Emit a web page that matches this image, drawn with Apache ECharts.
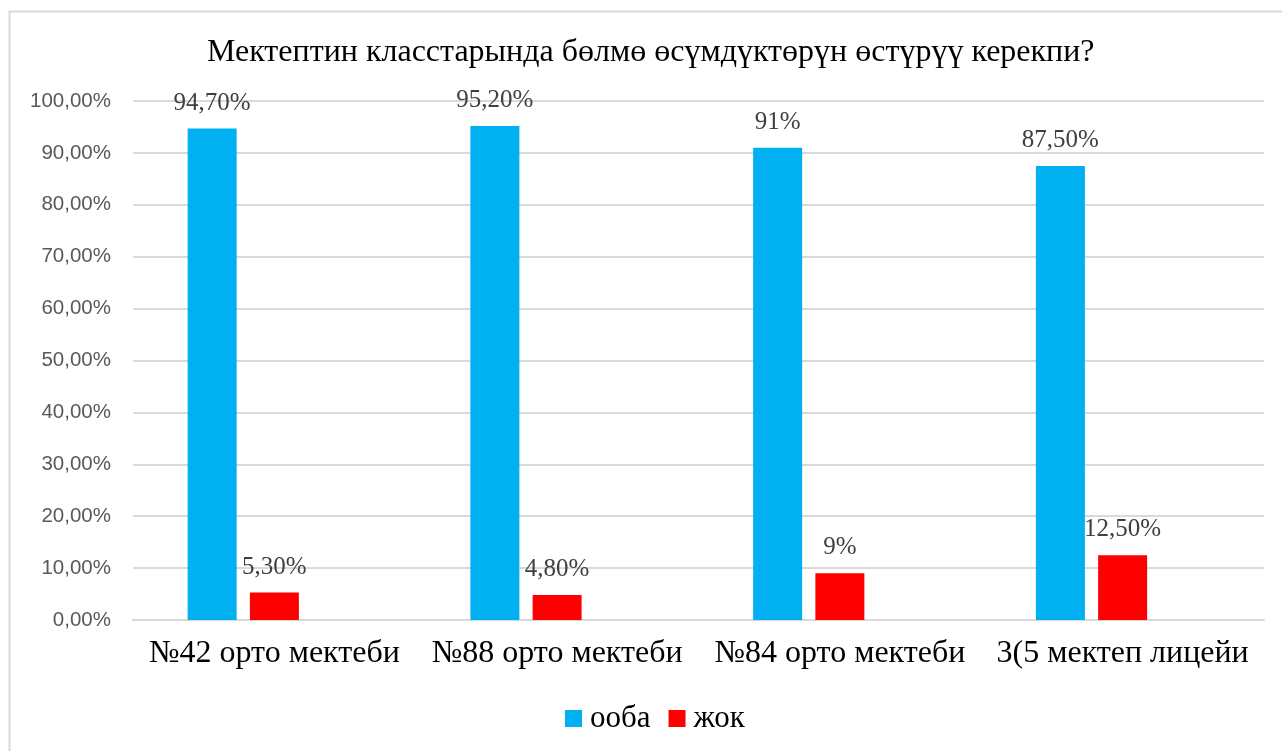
<!DOCTYPE html>
<html>
<head>
<meta charset="utf-8">
<script src="https://cdn.jsdelivr.net/npm/echarts@6/dist/echarts.min.js"></script>
<style>
html,body{margin:0;padding:0;background:#fff;}
#c{width:1282px;height:751px;}
</style>
</head>
<body>
<div id="c"></div>
<script>
var title = 'Мектептин класстарында бөлмө өсүмдүктөрүн өстүрүү керекпи?';
var categories = ['№42 орто мектеби', '№88 орто мектеби', '№84 орто мектеби', '3(5 мектеп лицейи'];
var yesName = 'ооба';
var noName = 'жок';
var yesValues = [94.7, 95.2, 91, 87.5];
var noValues = [5.3, 4.8, 9, 12.5];
var yesLabels = ['94,70%', '95,20%', '91%', '87,50%'];
var noLabels = ['5,30%', '4,80%', '9%', '12,50%'];
var yTicks = ['0,00%', '10,00%', '20,00%', '30,00%', '40,00%', '50,00%', '60,00%', '70,00%', '80,00%', '90,00%', '100,00%'];

var chart = echarts.init(document.getElementById('c'), null, {renderer: 'canvas'});
var serif = '"Liberation Serif", "Times New Roman", serif';
var sans = '"Liberation Sans", Arial, sans-serif';

function labelCfg(arr) {
  return {
    show: true, position: 'top', distance: 13,
    fontFamily: serif, fontSize: 25, color: '#404040',
    formatter: function (p) { return arr[p.dataIndex]; }
  };
}

chart.setOption({
  animation: false,
  graphic: [{
    type: 'rect', silent: true, z: -10,
    shape: {x: 9.5, y: 11.5, width: 1290, height: 800},
    style: {fill: 'none', stroke: '#d9d9d9', lineWidth: 2}
  }],
  title: {
    text: title, left: 202, top: 32,
    textStyle: {fontFamily: serif, fontSize: 32, fontWeight: 'normal', color: '#000'}
  },
  legend: {
    data: [yesName, noName], bottom: 12, left: 560,
    itemWidth: 17, itemHeight: 17, itemGap: 18, icon: 'rect',
    textStyle: {fontFamily: serif, fontSize: 31, color: '#000', padding: [0, 0, 0, 3]}
  },
  grid: {left: 133, right: 18, top: 101, bottom: 131, containLabel: false},
  xAxis: {
    type: 'category', data: categories,
    axisLine: {show: true, lineStyle: {color: '#d9d9d9', width: 2}},
    axisTick: {show: false},
    axisLabel: {fontFamily: serif, fontSize: 32, color: '#000', margin: 18, interval: 0}
  },
  yAxis: {
    type: 'value', min: 0, max: 100, interval: 10,
    axisLine: {show: false}, axisTick: {show: false},
    splitLine: {lineStyle: {color: '#d9d9d9', width: 2}},
    axisLabel: {
      fontFamily: sans, fontSize: 20.5, color: '#595959', margin: 22,
      formatter: function (v) { return yTicks[Math.round(v / 10)]; }
    }
  },
  series: [
    {name: yesName, type: 'bar', data: yesValues, barWidth: 49, barGap: '27%',
      itemStyle: {color: '#00b0f0'}, label: labelCfg(yesLabels)},
    {name: noName, type: 'bar', data: noValues, barWidth: 49, barGap: '27%',
      itemStyle: {color: '#ff0000'}, label: labelCfg(noLabels)},
    {name: 'empty', type: 'bar', data: [null, null, null, null], barWidth: 49, barGap: '27%'}
  ]
});
</script>
</body>
</html>
